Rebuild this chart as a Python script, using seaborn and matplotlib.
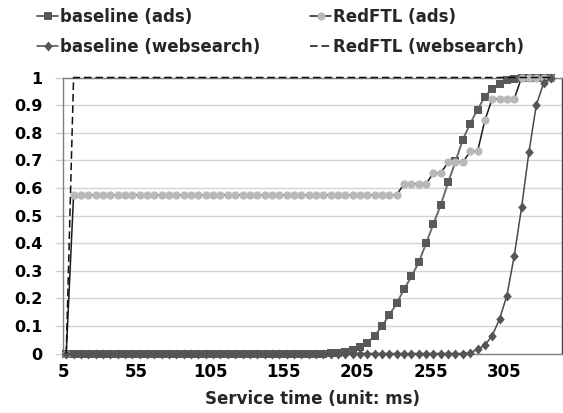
import numpy as np
import pandas as pd
import seaborn as sns
import matplotlib
matplotlib.use("Agg")
import matplotlib.pyplot as plt

# ---- data ----
x_ms = [7, 12, 17, 22, 27, 32, 37, 42, 47, 52, 57, 62, 67, 72, 77, 82, 87, 92, 97, 102,
        107, 112, 117, 122, 127, 132, 137, 142, 147, 152, 157, 162, 167, 172, 177, 182,
        187, 192, 197, 202, 207, 212, 217, 222, 227, 232, 237, 242, 247, 252, 257, 262,
        267, 272, 277, 282, 287, 292, 297, 302, 307, 312, 317, 322, 327, 332, 337]

baseline_ads = [0]*36 + [0.001, 0.002, 0.005, 0.013, 0.023, 0.039, 0.064, 0.10, 0.14, 0.182,
                         0.233, 0.279, 0.33, 0.40, 0.47, 0.539, 0.62, 0.696, 0.775, 0.833,
                         0.884, 0.93, 0.96, 0.977, 0.99, 0.996, 1.0, 1.0, 1.0, 1.0, 1.0]

redftl_ads = [0.0] + [0.575]*45 + [0.615, 0.615, 0.615, 0.615, 0.654, 0.654, 0.693, 0.693,
                                   0.693, 0.732, 0.732, 0.845, 0.923, 0.923, 0.923, 0.923,
                                   1.0, 1.0, 1.0, 1.0, 1.0]

baseline_web = [0]*55 + [0.003, 0.015, 0.03, 0.065, 0.125, 0.21, 0.354, 0.53, 0.73, 0.90,
                         0.98, 1.0]

redftl_web = [0.0] + [1.0]*66

x_ticks = [5, 55, 105, 155, 205, 255, 305]
y_ticks = [0, 0.1, 0.2, 0.3, 0.4, 0.5, 0.6, 0.7, 0.8, 0.9, 1]
y_ticklabels = ["0", "0.1", "0.2", "0.3", "0.4", "0.5", "0.6", "0.7", "0.8", "0.9", "1"]

labels = ["baseline (ads)", "RedFTL (ads)", "baseline (websearch)", "RedFTL (websearch)"]

sns.set_theme(style="white")
plt.rcParams['font.family'] = ['DejaVu Sans']

fig = plt.figure(figsize=(5.63, 4.13), dpi=100)
ax = fig.add_axes([63.3/563, 1-353.5/413, (561.7-63.3)/563, (353.5-77.5)/413])

diamond = [(0, 1), (0.85, 0), (0, -1), (-0.85, 0), (0, 1)]

specs = [
    (baseline_ads, dict(color="#6b6b6b", linewidth=1.4, marker="s"),
     dict(ms=5.4, mfc="#595959")),
    (redftl_ads, dict(color="#1a1a1a", linewidth=1.1, marker="o"),
     dict(ms=5.9, mfc="#b8b8b8")),
    (baseline_web, dict(color="#4a4a4a", linewidth=1.1, marker=diamond),
     dict(ms=7.2, mfc="#555555")),
    (redftl_web, dict(color="#111111", linewidth=1.1, linestyle=(0, (5, 2.5))),
     None),
]

for (yvals, kw, mk), lab, z in zip(specs, labels, [3, 4, 5, 6]):
    sns.lineplot(x=x_ms, y=yvals, ax=ax, label=lab, zorder=z, **kw)
    line = ax.lines[-1]
    line.set_clip_on(False)
    if mk is not None:
        line.set_markersize(mk["ms"])
        line.set_markerfacecolor(mk["mfc"])
        line.set_markeredgecolor(mk["mfc"])
        line.set_markeredgewidth(0)

ax.set_xlim(5, 344.3)
ax.set_ylim(0, 1)
ax.set_xticks(x_ticks)
ax.set_xticklabels([str(t) for t in x_ticks], fontsize=12, fontweight="bold", color="#000000")
ax.set_yticks(y_ticks)
ax.set_yticklabels(y_ticklabels, fontsize=11.5, fontweight="bold", color="#000000")
ax.tick_params(axis="x", length=0, pad=7)
ax.tick_params(axis="y", length=6, width=1, color="#d0d0d0", pad=9, left=True)
ax.yaxis.grid(True, color="#d4d4d4", linewidth=1)
ax.xaxis.grid(False)
for s in ["left", "bottom", "right", "top"]:
    ax.spines[s].set_color("#808080")
    ax.spines[s].set_linewidth(1.0)
ax.spines["right"].set_color("#404040")

ax.set_xlabel("Service time (unit: ms)", fontsize=12, fontweight="bold", labelpad=6)
ax.set_ylabel("")

handles, lbls = ax.get_legend_handles_labels()
ax.get_legend().remove()
order = [0, 2, 1, 3]
fig.legend([handles[i] for i in order], [lbls[i] for i in order],
           loc="center", bbox_to_anchor=(280.5/563, 1-32/413), ncol=2, frameon=False,
           prop={"size": 12, "weight": "bold"}, handlelength=1.25, handletextpad=0.1,
           columnspacing=3.0, labelspacing=0.75, borderpad=0, numpoints=1)

fig.savefig("out.png", dpi=100)
